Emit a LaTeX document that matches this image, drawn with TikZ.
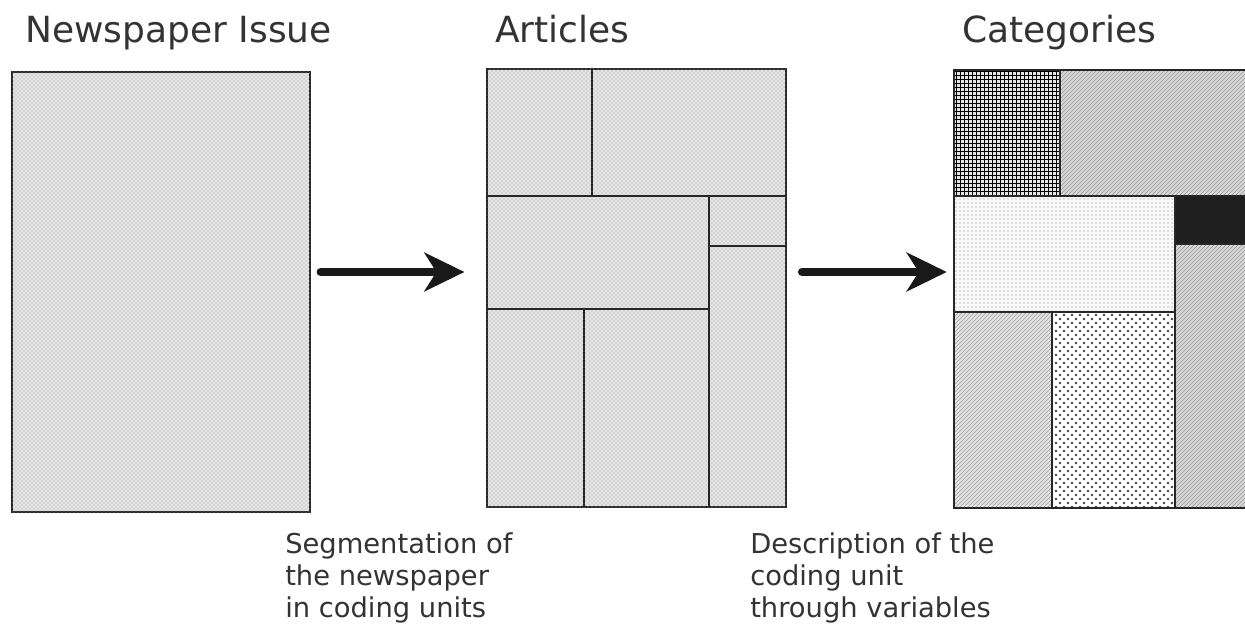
\documentclass[tikz,border=0pt]{standalone}
\usepackage{fontspec}
\setmainfont{DejaVu Sans}
\usetikzlibrary{arrows.meta,patterns,fit}

% dots on a diagonal grid, for the last category
\pgfdeclarepatternformonly{bigdots}{\pgfqpoint{-1.5pt}{-1.5pt}}{\pgfqpoint{4.5pt}{4.5pt}}{\pgfqpoint{6pt}{6pt}}{%
  \pgfpathcircle{\pgfqpoint{0pt}{0pt}}{1.1pt}%
  \pgfpathcircle{\pgfqpoint{3pt}{3pt}}{1.1pt}%
  \pgfusepath{fill}}

\begin{document}
\begin{tikzpicture}[x=0.75pt,y=-0.75pt,
  panel/.style={draw=black!85, line width=1.9pt, inner sep=0pt},
  paper/.style={fill=gray!20, postaction={pattern=crosshatch dots, pattern color=gray!80}},
  cut/.style={draw=black!85, line width=1.9pt},
  title/.style={anchor=base west, inner sep=0pt, text=black!80, font=\fontsize{27}{32}\selectfont},
  note/.style={anchor=north west, inner sep=0pt, align=left, text=black!80, font=\fontsize{20.5}{24}\selectfont},
  bigarrow/.style={black!90, line width=6pt, line cap=round, -{Stealth[length=30pt,width=29pt,inset=9pt]}},
  checks/.style={fill=gray!20, postaction={pattern=grid, pattern color=black}},
  lines/.style={fill=gray!30, postaction={pattern=north east lines, pattern color=gray!85}},
  paler/.style={fill=gray!22, postaction={pattern=north east lines, pattern color=gray!75}},
  specks/.style={fill=gray!5, postaction={pattern=dots, pattern color=gray}},
  spots/.style={fill=white, postaction={pattern=bigdots, pattern color=black!75}}]
\useasboundingbox (0,0) rectangle (1245,627);

% titles
\node[title] (issuetitle) at (25,43) {Newspaper Issue};
\node[title] (articlestitle) at (495,43) {Articles};
\node[title] (categoriestitle) at (962,43) {Categories};

% the whole issue
\node[panel, paper, fit={(12,72) (310,512)}] (issue) {};

% the issue cut into articles
\node[panel, paper, fit={(487,69) (786,507)}] (articles) {};
\draw[cut] (592,69) -- (592,196);
\draw[cut] (487,196) -- (786,196);
\draw[cut] (709,196) -- (709,507);
\draw[cut] (709,246) -- (786,246);
\draw[cut] (487,309) -- (709,309);
\draw[cut] (584,309) -- (584,507);

% the articles coded in categories
\begin{scope}
\clip (0,0) rectangle (1245,627);
\fill[checks] (954,70) rectangle (1060,196);
\fill[lines] (1060,70) rectangle (1262,196);
\fill[specks] (954,196) rectangle (1175,312);
\fill[black!88] (1175,196) rectangle (1262,244);
\fill[lines] (1175,244) rectangle (1262,508);
\fill[paler] (954,312) rectangle (1052,508);
\fill[spots] (1052,312) rectangle (1175,508);
\node[panel, fit={(954,70) (1262,508)}] (categories) {};
\draw[cut] (1060,70) -- (1060,196);
\draw[cut] (954,196) -- (1262,196);
\draw[cut] (1175,196) -- (1175,508);
\draw[cut] (1175,244) -- (1262,244);
\draw[cut] (954,312) -- (1175,312);
\draw[cut] (1052,312) -- (1052,508);
\end{scope}

% steps
\coordinate (arrowrow) at (0,272);
\draw[bigarrow, shorten <=7pt, shorten >=16pt] (issue.east |- arrowrow) -- (articles.west |- arrowrow);
\draw[bigarrow, shorten <=11pt, shorten >=4.5pt] (articles.east |- arrowrow) -- (categories.west |- arrowrow);

\node[note] (segnote) at (285,532) {Segmentation of\\the newspaper\\in coding units};
\node[note] (descnote) at (750,532) {Description of the\\coding unit\\through variables};
\end{tikzpicture}
\end{document}
